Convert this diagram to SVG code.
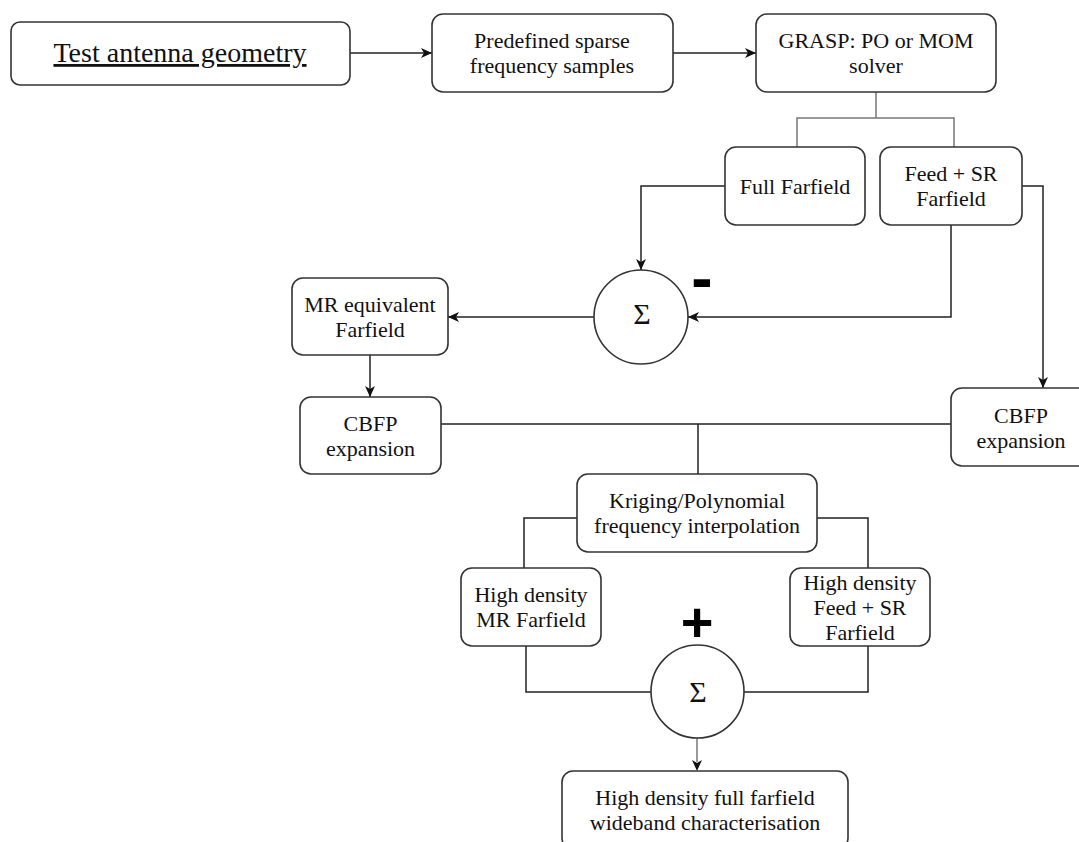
<svg xmlns="http://www.w3.org/2000/svg" width="1079" height="842" viewBox="0 0 1079 842">
<style>
.box{fill:#fff;stroke:#333;stroke-width:1.6}
.c{fill:#fff;stroke:#333;stroke-width:1.6}
.t{font-family:"Liberation Serif","Times New Roman",serif;font-size:22px;fill:#111;text-anchor:middle}
.ln{fill:none;stroke:#222;stroke-width:1.5}
.gl{fill:none;stroke:#777;stroke-width:1.5}
.sg{font-family:"Liberation Sans",Arial,sans-serif;font-weight:bold;fill:#000;text-anchor:middle}
</style>
<defs>
<marker id="ah" markerUnits="userSpaceOnUse" markerWidth="12" markerHeight="10" refX="11" refY="5" orient="auto">
<path d="M0,0 L11,5 L0,10 L3,5 Z" fill="#111"/>
</marker>
</defs>
<g id="connectors">
<path class="ln" d="M350,53 H432" marker-end="url(#ah)"/>
<path class="ln" d="M673,53 H756" marker-end="url(#ah)"/>
<path class="gl" d="M876,92 V118 M797,147 V118 H954 V147"/>
<path class="ln" d="M725,186 H641 V270" marker-end="url(#ah)"/>
<path class="ln" d="M951,225 V317 H688" marker-end="url(#ah)"/>
<path class="ln" d="M1022,186 H1043 V388" marker-end="url(#ah)"/>
<path class="ln" d="M594,317 H448" marker-end="url(#ah)"/>
<path class="ln" d="M370,355 V397" marker-end="url(#ah)"/>
<path class="ln" d="M441,424 H951 M698,424 V474"/>
<path class="ln" d="M577,518 H524 V568 M817,518 H868 V568"/>
<path class="ln" d="M526,646 V692 H651 M868,646 V692 H744"/>
<path class="gl" d="M697,738 V762"/>
<path d="M692,760 L697,771 L702,760 L697,763 Z" fill="#111"/>
</g>
<g id="n-test">
<rect class="box" x="11" y="22" width="339" height="63" rx="9"/>
<text class="t" x="180" y="62" style="font-size:28px;text-decoration:underline">Test antenna geometry</text>
</g>
<g id="n-predef">
<rect class="box" x="432" y="14" width="241" height="78" rx="11"/>
<text class="t" x="552" y="48">Predefined sparse</text>
<text class="t" x="552" y="73">frequency samples</text>
</g>
<g id="n-grasp">
<rect class="box" x="756" y="14" width="240" height="78" rx="11"/>
<text class="t" x="876" y="48">GRASP: PO or MOM</text>
<text class="t" x="876" y="73">solver</text>
</g>
<g id="n-full">
<rect class="box" x="725" y="147" width="140" height="78" rx="11"/>
<text class="t" x="795" y="193.5">Full Farfield</text>
</g>
<g id="n-feedsr">
<rect class="box" x="880" y="147" width="142" height="78" rx="11"/>
<text class="t" x="951" y="181">Feed + SR</text>
<text class="t" x="951" y="206">Farfield</text>
</g>
<g id="n-sum1">
<circle class="c" cx="641" cy="317" r="47"/>
<text class="t" x="642" y="324" style="font-size:30px">Σ</text>
<text class="sg" x="702" y="300" style="font-size:64px">-</text>
</g>
<g id="n-mreq">
<rect class="box" x="292" y="278" width="156" height="77" rx="11"/>
<text class="t" x="370" y="311.5">MR equivalent</text>
<text class="t" x="370" y="336.5">Farfield</text>
</g>
<g id="n-cbfp1">
<rect class="box" x="300" y="397" width="141" height="77" rx="11"/>
<text class="t" x="370.5" y="430.5">CBFP</text>
<text class="t" x="370.5" y="455.5">expansion</text>
</g>
<g id="n-cbfp2">
<rect class="box" x="951" y="388" width="141" height="78" rx="11"/>
<text class="t" x="1021" y="423">CBFP</text>
<text class="t" x="1021" y="448">expansion</text>
</g>
<g id="n-krig">
<rect class="box" x="577" y="474" width="240" height="78" rx="11"/>
<text class="t" x="697" y="508">Kriging/Polynomial</text>
<text class="t" x="697" y="533">frequency interpolation</text>
</g>
<g id="n-hdmr">
<rect class="box" x="461" y="568" width="140" height="78" rx="11"/>
<text class="t" x="531" y="602">High density</text>
<text class="t" x="531" y="627">MR Farfield</text>
</g>
<g id="n-hdfeed">
<rect class="box" x="790" y="568" width="140" height="78" rx="11"/>
<text class="t" x="860" y="589.5">High density</text>
<text class="t" x="860" y="614.5">Feed + SR</text>
<text class="t" x="860" y="639.5">Farfield</text>
</g>
<g id="n-sum2">
<circle class="c" cx="697.5" cy="691.5" r="46.5"/>
<text class="t" x="698" y="702" style="font-size:30px">Σ</text>
<text class="sg" x="697" y="641" style="font-size:56px">+</text>
</g>
<g id="n-final">
<rect class="box" x="562" y="771" width="286" height="78" rx="11"/>
<text class="t" x="705" y="805">High density full farfield</text>
<text class="t" x="705" y="830">wideband characterisation</text>
</g>
</svg>
